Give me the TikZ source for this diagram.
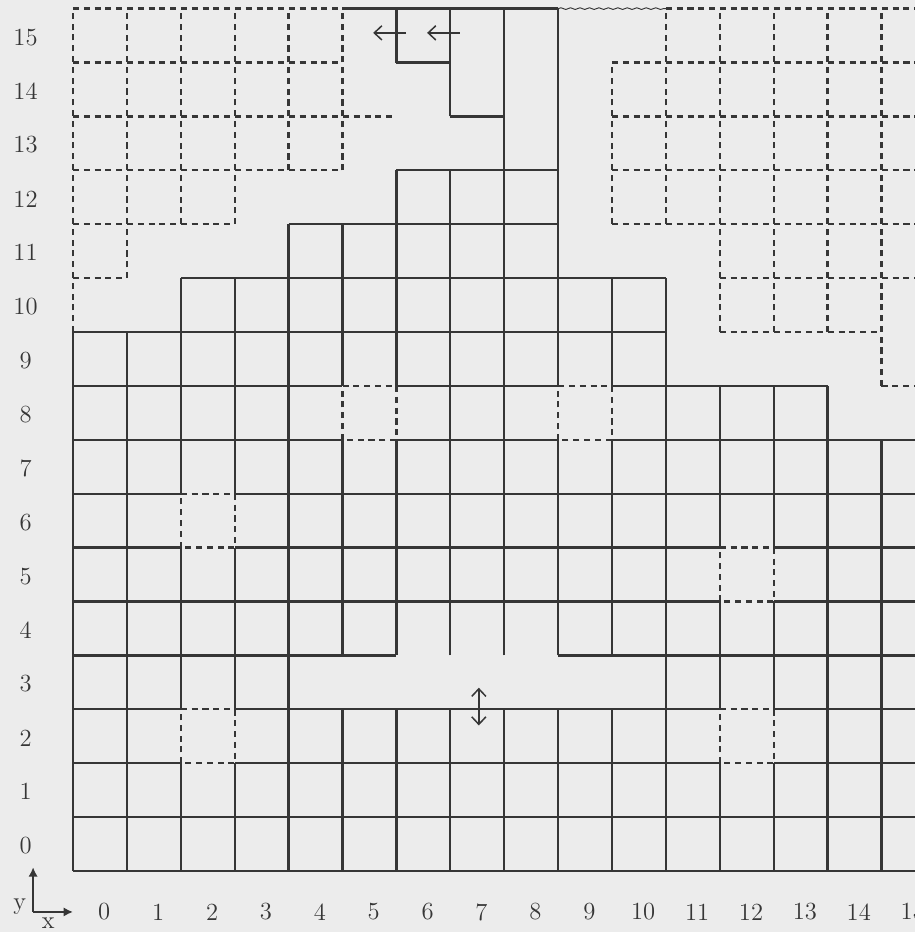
\documentclass[tikz,border=0pt]{standalone}
\usepackage{tikz}
\usetikzlibrary{arrows.meta,decorations.pathmorphing}
\definecolor{mapInk}{HTML}{363636}
\definecolor{mapPaper}{HTML}{ECECEC}
\tikzset{
    >={Straight Barb[length=4pt,width=7.5pt]},
    wall/.style={draw=mapInk, line width=1.2pt},
    dashwall/.style={draw=mapInk, line width=1.2pt, dash pattern=on 3.2pt off 2.5pt},
    seamline/.style={draw=mapInk, line width=0.5pt, decorate, decoration={snake, amplitude=0.45pt, segment length=5pt}},
    movearrow/.style={->, draw=mapInk, line width=0.8pt},
    axisarrow/.style={-{Latex[length=5pt,width=5pt]}, draw=mapInk, line width=1.1pt},
    idx/.style={font=\fontsize{13}{15}\selectfont, text=mapInk, inner sep=0pt}
}

\begin{document}
\begin{tikzpicture}
% paper
\fill[mapPaper] (-1.354,-1.132) rectangle (15.622,16.16);
\useasboundingbox (-1.354,-1.132) rectangle (15.622,16.16);
\clip (-1.354,-1.132) rectangle (15.622,16.16);

% solid walls, horizontal: level / from / to
\foreach \y/\a/\b in {0/0/15.7, 1/0/15.7, 2/0/2, 2/3/12, 2/13/15.7, 3/0/2, 3/3/12, 3/13/15.7,
    4/0/6, 4/9/15.7, 5/0/12, 5/13/15.7, 6/0/2, 6/3/12, 6/13/15.7, 7/0/2, 7/3/15.7,
    8/0/5, 8/6/9, 8/10/15.7, 9/0/5, 9/6/9, 9/10/14, 10/0/11, 11/2/11, 12/4/9,
    13/6/9, 14/7/8, 15/6/7, 16/5/9}
  \draw[wall] (\a,\y) -- (\b,\y);

% solid walls, vertical: level / from / to
\foreach \x/\a/\b in {0/0/10, 1/0/10, 2/0/2, 2/3/6, 2/7/11, 3/0/2, 3/3/6, 3/7/11, 4/0/12,
    5/0/3, 5/4/8, 5/9/12, 6/0/3, 6/4/8, 6/9/13, 6/15/16, 7/0/3, 7/4/13, 7/14/16,
    8/0/3, 8/4/16, 9/0/3, 9/4/8, 9/9/16, 10/0/3, 10/4/8, 10/9/11, 11/0/11,
    12/0/2, 12/3/5, 12/6/9, 13/0/2, 13/3/5, 13/6/9, 14/0/9, 15/0/8}
  \draw[wall] (\x,\a) -- (\x,\b);

% unknown cells inside the map
\foreach \x/\y in {5/8, 9/8, 2/6, 12/5, 2/2, 12/2}
  \draw[dashwall] (\x,\y) rectangle +(1,1);

% unknown area, left
\foreach \y/\a/\b in {16/0/5, 15/0/5, 14/0/6, 13/0/5, 12/0/3, 11/0/1}
  \draw[dashwall] (\a,\y) -- (\b,\y);
\foreach \x/\a/\b in {0/10/16, 1/11/16, 2/12/16, 3/12/16, 4/13/16, 5/13/16}
  \draw[dashwall] (\x,\a) -- (\x,\b);

% unknown area, right
\foreach \y/\a/\b in {16/11/15.7, 15/10/15.7, 14/10/15.7, 13/10/15.7, 12/10/15.7,
    11/12/15.7, 10/12/15, 9/15/15.7}
  \draw[dashwall] (\a,\y) -- (\b,\y);
\foreach \x/\a/\b in {10/12/15, 11/12/16, 12/10/16, 13/10/16, 14/10/16, 15/9/16}
  \draw[dashwall] (\x,\a) -- (\x,\b);
\draw[seamline] (9,16) -- (11,16);

% moves
\coordinate (m1a) at (6.18,15.55);
\coordinate (m1b) at (5.57,15.55);
\coordinate (m2a) at (7.18,15.55);
\coordinate (m2b) at (6.57,15.55);
\coordinate (m3a) at (7.53,2.7);
\coordinate (m3b) at (7.53,3.4);
\draw[movearrow] (m1a) -- (m1b);
\draw[movearrow] (m2a) -- (m2b);
\draw[movearrow, <->] (m3a) -- (m3b);

% indices
\foreach \i in {0,...,15} {
  \node[idx] (row\i) at (-0.88,\i+0.47) {\i};
  \node[idx] (col\i) at (\i+0.58,-0.76) {\i};
}

% axes
\coordinate (ax0) at (-0.74,-0.76);
\coordinate (axy) at (-0.74,0.07);
\coordinate (axx) at (0.0,-0.76);
\draw[axisarrow] (ax0) -- (axy);
\draw[axisarrow] (ax0) -- (axx);
\node[idx] (ylab) at (-0.99,-0.66) {y};
\node[idx] (xlab) at (-0.46,-0.97) {x};
\end{tikzpicture}
\end{document}
